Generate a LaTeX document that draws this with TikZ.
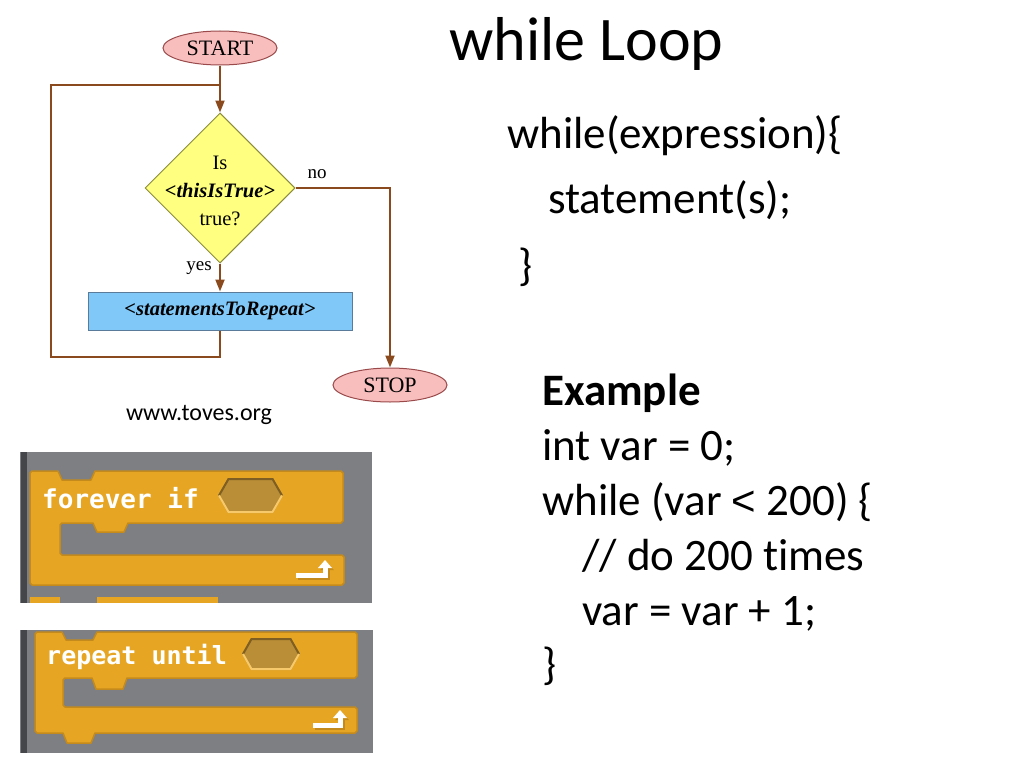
\documentclass[tikz,border=0pt]{standalone}
\usepackage{fontspec}
\setmainfont{Carlito}[Ligatures={NoCommon,NoContextual}]
\newfontfamily\fcfont{Liberation Serif}
\newfontfamily\scrfont{DejaVu Sans Mono}
\newfontfamily\ltfont{Liberation Sans}
\usetikzlibrary{shapes.geometric,arrows.meta}
\definecolor{flowbrown}{HTML}{8B4A1E}
\definecolor{termfill}{HTML}{F8BDBD}
\definecolor{termdraw}{HTML}{9A4A4A}
\definecolor{decfill}{HTML}{FFFF80}
\definecolor{decdraw}{HTML}{8C8C3C}
\definecolor{procfill}{HTML}{80C8F8}
\definecolor{procdraw}{HTML}{5A7C9A}
\definecolor{scrgray}{HTML}{7E7F83}
\definecolor{scrdark}{HTML}{45464A}
\definecolor{scrorange}{HTML}{E6A623}
\definecolor{scredge}{HTML}{C48A1C}
\definecolor{hexfill}{HTML}{B98E36}
\definecolor{hexdark}{HTML}{7E5E22}
\definecolor{hexlight}{HTML}{F7C96A}
\tikzset{
  term/.style={ellipse,draw=termdraw,fill=termfill,line width=1pt,inner sep=0pt,
    minimum width=114pt,minimum height=34pt,font=\fcfont\fontsize{22}{24}\selectfont},
  decision/.style={diamond,draw=decdraw,fill=decfill,line width=1pt,inner sep=0pt,
    minimum width=150pt,minimum height=150pt},
  proc/.style={rectangle,draw=procdraw,fill=procfill,line width=1pt,inner sep=0pt,
    minimum width=264pt,minimum height=38pt,font=\fcfont\bfseries\itshape\fontsize{20.5}{24}\selectfont},
  flow/.style={draw=flowbrown,line width=2pt},
  flowarrow/.style={flow,-{Triangle[length=12pt,width=9pt]}},
  fclabel/.style={font=\fcfont\fontsize{19}{22}\selectfont,inner sep=0pt},
  codetext/.style={anchor=base west,inner sep=0pt,font=\fontsize{45}{54}\selectfont},
  scrtext/.style={anchor=base west,inner sep=0pt,text=white,font=\scrfont\bfseries\fontsize{26}{30}\selectfont},
  scrblock/.style={fill=scrorange,draw=scredge,line width=1.5pt,line join=round},
  hexbox/.style={fill=hexfill},
  retarrow/.style={white,line width=5pt}
}
\begin{document}
\begin{tikzpicture}[x=1pt,y=-1pt]
\fill[white] (0,0) rectangle (1024,768);
\useasboundingbox (0,0) rectangle (1024,768);

% ---------------- flowchart ----------------
\node[term] (start) at (220,48) {START};
\node[decision] (dec) at (220,188) {};
\node[align=center,inner sep=0pt,font=\fcfont\fontsize{20.5}{28}\selectfont] (dectext) at (220,191)
  {Is\\{\bfseries\itshape <thisIsTrue>}\\true?};
\node[proc] (rep) at (220,311) {<statementsToRepeat>};
\node[term] (stop) at (390,385) {STOP};

\coordinate (loopbl) at (51,357);
\coordinate (looptl) at (51,85);
\coordinate (loopjoin) at (220,85);

\draw[flowarrow] (start) -- (dec.north);
\draw[flow] (rep.south) |- (loopbl) -- (looptl) -- (loopjoin);
\draw[flowarrow] (dec.south) -- (rep.north);
\draw[flowarrow] (dec.east) -| (stop.north);

\node[fclabel] (nolabel) at (317,174) {no};
\node[fclabel] (yeslabel) at (199,268) {yes};

\node[inner sep=0pt,font=\fontsize{24}{28}\selectfont] (source) at (199,415) {www.toves.org};

% ---------------- right text ----------------
\node[codetext,font=\fontsize{62}{70}\selectfont] (title) at (449,60) {while Loop};
\node[codetext] (l1) at (507,148) {while(expression)\{};
\node[codetext] (l2) at (548,213) {statement(s);};
\node[codetext] (l3) at (518,280) {\}};
\node[codetext] (e0) at (542,405) {\textbf{Example}};
\node[codetext] (e1) at (542,460) {int var = 0;};
\node[codetext] (e2) at (542,515) {while (var {\ltfont\fontsize{42}{54}\selectfont <} 200) \{};
\node[codetext] (e3) at (582,570) {// do 200 times};
\node[codetext] (e4) at (582,625) {var = var + 1;};
\node[codetext] (e5) at (542,679) {\}};

% ---------------- scratch block 1: forever if ----------------
\fill[scrgray] (20,452) rectangle (372,603);
\fill[scrdark] (21,452) rectangle (27,603);
\fill[scrorange] (30,597) -- (60,597) -- (60,603) -- (30,603) -- cycle;
\fill[scrorange] (97,597) -- (218,597) -- (218,603) -- (97,603) -- cycle;
\draw[scrblock] (32,471) -- (58,471) -- (62,480) -- (91,480) -- (95,471) -- (341,471)
  -- (343,473) -- (343,521) -- (341,523) -- (128,523) -- (124,532) -- (97,532) -- (93,523)
  -- (62,523) -- (60,525) -- (60,553) -- (62,555) -- (342,555) -- (344,557) -- (344,583)
  -- (342,585) -- (32,585) -- (30,583) -- (30,473) -- cycle;
\node[scrtext] (t1) at (42,508) {forever if};
\fill[hexbox] (218,495.5) -- (228,478) -- (273,478) -- (283,495.5) -- (273,513) -- (228,513) -- cycle;
\draw[hexdark,line width=2pt] (219,495.5) -- (228.5,479) -- (272.5,479) -- (282,495.5);
\draw[hexlight,line width=2pt] (219,495.5) -- (228.5,512) -- (272.5,512) -- (282,495.5);
\draw[scredge,line width=5pt] (298,577) -- (327,577) -- (327,570);
\fill[scredge] (320,570) -- (334,570) -- (327,563) -- cycle;
\draw[retarrow] (296,575) -- (325,575) -- (325,568);
\fill[white] (318,568) -- (332,568) -- (325,560) -- cycle;

% ---------------- scratch block 2: repeat until ----------------
\fill[scrgray] (20,630) rectangle (373,753);
\fill[scrdark] (21,630) rectangle (27,753);
\draw[scrblock] (37,632) -- (62,632) -- (66,640) -- (93,640) -- (97,632) -- (355,632)
  -- (357,634) -- (357,676) -- (355,678) -- (127,678) -- (123,689) -- (96,689) -- (92,678)
  -- (65,678) -- (63,680) -- (63,705) -- (65,707) -- (355,707) -- (357,709) -- (357,731)
  -- (355,733) -- (95,733) -- (91,743) -- (67,743) -- (63,733) -- (37,733) -- (35,731)
  -- (35,634) -- cycle;
\node[scrtext,font=\scrfont\bfseries\fontsize{25}{30}\selectfont] (t2) at (46,664) {repeat until};
\fill[hexbox] (242,654) -- (251,638) -- (291,638) -- (300,654) -- (291,670) -- (251,670) -- cycle;
\draw[hexdark,line width=2pt] (243,654) -- (251.5,639) -- (290.5,639) -- (299,654);
\draw[hexlight,line width=2pt] (243,654) -- (251.5,669) -- (290.5,669) -- (299,654);
\draw[scredge,line width=5pt] (315,727) -- (342,727) -- (342,720);
\fill[scredge] (335,720) -- (349,720) -- (342,713) -- cycle;
\draw[retarrow] (313,725) -- (340,725) -- (340,718);
\fill[white] (333,718) -- (347,718) -- (340,710) -- cycle;
\end{tikzpicture}
\end{document}
